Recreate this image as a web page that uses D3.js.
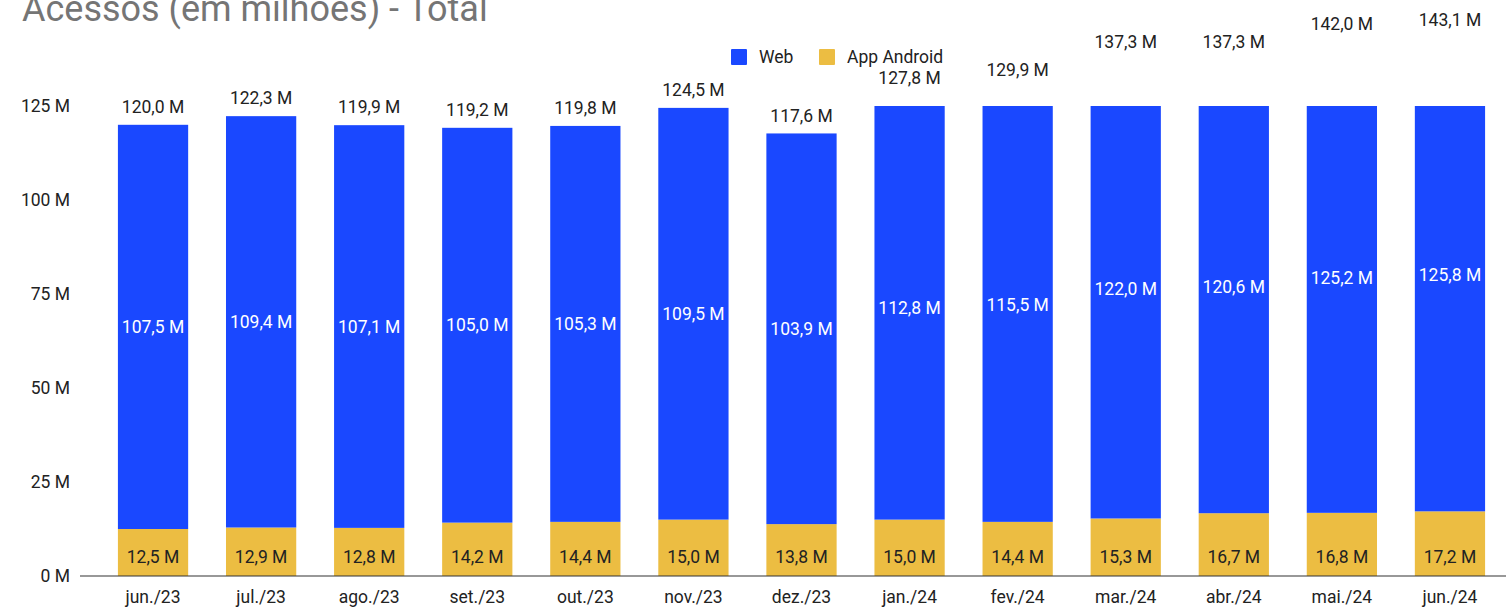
<!DOCTYPE html>
<html>
<head>
<meta charset="utf-8">
<script src="https://cdn.jsdelivr.net/npm/d3@7"></script>
<style>
  body { margin: 0; background: #fff; }
  text { font-family: Roboto, "Noto Sans", sans-serif; }
</style>
</head>
<body>
<script>
// data
var months = ["jun./23", "jul./23", "ago./23", "set./23", "out./23", "nov./23", "dez./23",
              "jan./24", "fev./24", "mar./24", "abr./24", "mai./24", "jun./24"];
var web = [107.5, 109.4, 107.1, 105.0, 105.3, 109.5, 103.9, 112.8, 115.5, 122.0, 120.6, 125.2, 125.8];
var app = [12.5, 12.9, 12.8, 14.2, 14.4, 15.0, 13.8, 15.0, 14.4, 15.3, 16.7, 16.8, 17.2];
var totals = [120.0, 122.3, 119.9, 119.2, 119.8, 124.5, 117.6, 127.8, 129.9, 137.3, 137.3, 142.0, 143.1];
var yTicks = [0, 25, 50, 75, 100, 125];
var seriesNames = ["Web", "App Android"];
var colors = ["#1a48ff", "#ecbd42"];

var width = 1506, height = 607;
var fs = 17.5;
var fmt = function(v) { return v.toFixed(1).replace(".", ",") + " M"; };

var svg = d3.select("body").append("svg")
  .attr("width", width)
  .attr("height", height);

// scales
var x = d3.scaleBand().domain(months).range([99, 1504]).paddingInner(0.35).paddingOuter(0.175);
var y = d3.scaleLinear().domain([0, 125]).range([576, 106]);

// title (cut off at the top in the original)
svg.append("text")
  .attr("x", 22).attr("y", 21)
  .attr("font-size", 36)
  .attr("fill", "#757575")
  .text("Acessos (em milhões) - Total");

// clip bars at the top of the axis
svg.append("clipPath").attr("id", "plotclip")
  .append("rect")
  .attr("x", 0).attr("y", y(125))
  .attr("width", width).attr("height", y(0) - y(125));

var rows = months.map(function(m, i) { return {month: m, app: app[i], web: web[i], total: totals[i]}; });
var stack = d3.stack().keys(["app", "web"])(rows);

var bars = svg.append("g").attr("clip-path", "url(#plotclip)");
bars.selectAll("g")
  .data(stack)
  .enter().append("g")
    .attr("fill", function(d, i) { return i === 0 ? colors[1] : colors[0]; })
  .selectAll("rect")
  .data(function(d) { return d; })
  .enter().append("rect")
    .attr("x", function(d) { return x(d.data.month); })
    .attr("y", function(d) { return y(d[1]); })
    .attr("width", x.bandwidth())
    .attr("height", function(d) { return y(d[0]) - y(d[1]); });

// y axis labels
svg.append("g").selectAll("text")
  .data(yTicks)
  .enter().append("text")
    .attr("x", 70)
    .attr("y", function(d) { return y(d); })
    .attr("dy", "0.35em")
    .attr("text-anchor", "end")
    .attr("font-size", fs)
    .attr("fill", "#222")
    .text(function(d) { return d + " M"; });

// baseline
svg.append("line")
  .attr("x1", 80).attr("x2", width)
  .attr("y1", y(0)).attr("y2", y(0))
  .attr("stroke", "#333").attr("stroke-width", 1.2);

// x axis labels
svg.append("g").selectAll("text")
  .data(months)
  .enter().append("text")
    .attr("x", function(d) { return x(d) + x.bandwidth() / 2; })
    .attr("y", 597)
    .attr("dy", "0.35em")
    .attr("text-anchor", "middle")
    .attr("font-size", fs)
    .attr("fill", "#222")
    .text(function(d) { return d; });

// web labels (middle of segment)
svg.append("g").selectAll("text")
  .data(stack[1])
  .enter().append("text")
    .attr("x", function(d) { return x(d.data.month) + x.bandwidth() / 2; })
    .attr("y", function(d) { return (y(d[0]) + y(d[1])) / 2; })
    .attr("dy", "0.35em")
    .attr("text-anchor", "middle")
    .attr("font-size", fs)
    .attr("fill", "#fff")
    .text(function(d) { return fmt(d.data.web); });

// app labels
svg.append("g").selectAll("text")
  .data(rows)
  .enter().append("text")
    .attr("x", function(d) { return x(d.month) + x.bandwidth() / 2; })
    .attr("y", y(0) - 19)
    .attr("dy", "0.35em")
    .attr("text-anchor", "middle")
    .attr("font-size", fs)
    .attr("fill", "#222")
    .text(function(d) { return fmt(d.app); });

// totals above bars
svg.append("g").selectAll("text")
  .data(rows)
  .enter().append("text")
    .attr("x", function(d) { return x(d.month) + x.bandwidth() / 2; })
    .attr("y", function(d) { return y(d.total) - 18; })
    .attr("dy", "0.35em")
    .attr("text-anchor", "middle")
    .attr("font-size", fs)
    .attr("fill", "#222")
    .text(function(d) { return fmt(d.total); });

// legend
var legendX = [731, 819];
var legend = svg.append("g").selectAll("g")
  .data(seriesNames)
  .enter().append("g")
    .attr("transform", function(d, i) { return "translate(" + legendX[i] + ",49)"; });
legend.append("rect")
  .attr("width", 16).attr("height", 16).attr("rx", 1)
  .attr("fill", function(d, i) { return colors[i]; });
legend.append("text")
  .attr("x", 28).attr("y", 8)
  .attr("dy", "0.35em")
  .attr("font-size", fs)
  .attr("fill", "#222")
  .text(function(d) { return d; });
</script>
</body>
</html>
